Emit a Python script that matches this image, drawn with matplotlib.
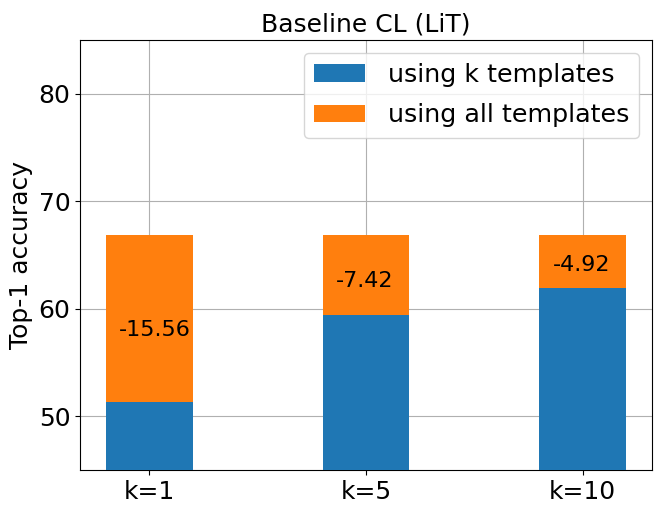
import matplotlib
matplotlib.use('Agg')
import matplotlib.pyplot as plt
import numpy as np

# values
labels = ['k=1', 'k=5', 'k=10']
k_templates = [51.30, 59.44, 61.94]
all_templates = [66.86, 66.86, 66.86]

x = np.arange(len(labels))
width = 0.4

plt.rcParams['font.size'] = 18

fig, ax = plt.subplots(figsize=(6.64, 5.14), dpi=100)
ax.bar(x, all_templates, width, color='#ff7f0e', label='using all templates', zorder=2)
ax.bar(x, k_templates, width, color='#1f77b4', label='using k templates', zorder=3)

# difference labels inside the orange part
for i in range(len(labels)):
    diff = k_templates[i] - all_templates[i]
    ypos = k_templates[i] + abs(diff) * 0.43
    ax.text(x[i] - 0.14, ypos, f'{diff:.2f}', ha='left', va='center', fontsize=16, zorder=4)

ax.set_ylim(45, 85)
ax.set_xticks(x)
ax.set_xticklabels(labels)
ax.set_yticks([50, 60, 70, 80])
ax.set_ylabel('Top-1 accuracy')
ax.set_title('Baseline CL (LiT)', fontsize=18)
ax.grid(True, zorder=0)
ax.set_axisbelow(True)

handles, lbls = ax.get_legend_handles_labels()
ax.legend(handles[::-1], lbls[::-1], loc='upper right', fontsize=18.3,
          labelspacing=0.65, handletextpad=0.9)

plt.subplots_adjust(left=0.1205, right=0.982, top=0.922, bottom=0.0856)
plt.savefig('out.png', dpi=100)
